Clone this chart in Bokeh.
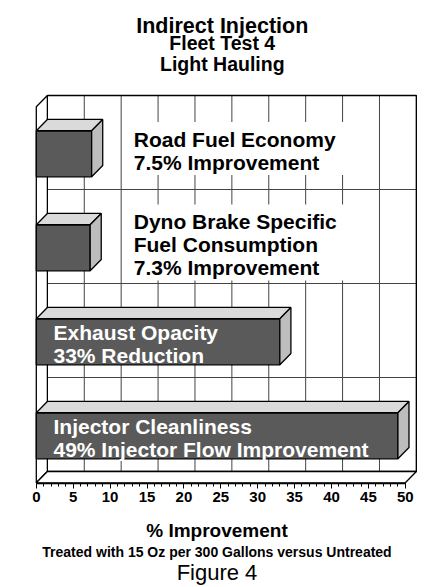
import numpy as np
from bokeh.plotting import figure
from bokeh.models import Range1d, LinearAxis, FixedTicker, Title, ColumnDataSource
from bokeh.core.properties import value
from bokeh.embed import file_html
from bokeh.resources import INLINE

# ---------------- data ----------------
categories = ["Road Fuel Economy", "Dyno Brake Specific Fuel Consumption",
              "Exhaust Opacity", "Injector Cleanliness"]
label_lines = [["Road Fuel Economy", "7.5% Improvement"],
               ["Dyno Brake Specific", "Fuel Consumption", "7.3% Improvement"],
               ["Exhaust Opacity", "33% Reduction"],
               ["Injector Cleanliness", "49% Injector Flow Improvement"]]
improvement = [7.5, 7.3, 33, 49]
x_ticks = [0, 5, 10, 15, 20, 25, 30, 35, 40, 45, 50]
x_minor_ticks = list(range(0, 51))
title_lines = ["Indirect Injection", "Fleet Test 4", "Light Hauling"]
x_label = "% Improvement"
subtitle = "Treated with 15 Oz per 300 Gallons versus Untreated"
caption = "Figure 4"

# ---------------- geometry / style ----------------
FONT = value("Liberation Sans")
W, H = 433, 587
FRAME_H = 483
SX = 7.38            # px per % unit
X0 = 35.8            # px position of 0 in the frame
SY = 94.0            # px per category band
Y0 = 471.0           # px (from frame top) of back-wall bottom
DX, DY = 1.5, 0.12   # 3-D depth offset (data units)
BH = 0.245           # half bar height
XMAX = 50
TFIX = -7.0          # text baseline correction (px)
n = len(categories)
ytop = float(n)

p = figure(width=W, height=H, output_backend="svg", toolbar_location=None,
           x_axis_type=None, y_axis_type=None,
           x_range=Range1d(-X0 / SX, (W - X0) / SX),
           y_range=Range1d(-(FRAME_H - Y0) / SY, Y0 / SY),
           min_border=0, min_border_bottom=H - FRAME_H)
p.grid.visible = False
p.outline_line_color = None
p.background_fill_color = "white"
p.border_fill_color = "white"

# back wall
p.quad(left=[DX], right=[XMAX + DX], bottom=[0], top=[ytop],
       fill_color="white", line_color=None)
# gridlines on the back wall
gx = np.array(x_ticks, dtype=float) + DX
p.segment(x0=gx, y0=0, x1=gx, y1=ytop, line_color="#444444", line_width=1)
gy = np.arange(0, n + 1, dtype=float)
p.segment(x0=DX, y0=gy, x1=XMAX + DX, y1=gy, line_color="#444444", line_width=1)
p.quad(left=[DX], right=[XMAX + DX], bottom=[0], top=[ytop],
       fill_color=None, line_color="black", line_width=1.3)
# left wall and floor
p.patch(x=[0, DX, DX, 0], y=[-DY, 0, ytop, ytop - DY],
        fill_color="white", line_color="black", line_width=1.3)
p.patch(x=[0, XMAX, XMAX + DX, DX], y=[-DY, -DY, 0, 0],
        fill_color="white", line_color="black", line_width=1.3)

# category centres (back plane), top to bottom
yc = np.array([n - 0.5 - i for i in range(n)])
vals = np.array(improvement, dtype=float)
inside = vals >= 20

# white panels behind outside labels
LS = 23.0
for i in range(n):
    if inside[i]:
        continue
    k = len(label_lines[i])
    first = 15 + (0 - (k - 1) / 2) * LS
    last = 15 + ((k - 1) - (k - 1) / 2) * LS
    p.quad(left=[12.2], right=[43.0],
           top=[yc[i] - (first - 24) / SY], bottom=[yc[i] - (last + 6) / SY],
           fill_color="white", line_color=None)

# bars
bot = yc - DY - BH
top = yc - DY + BH
p.quad(left=0, right=vals, bottom=bot, top=top,
       fill_color="#5a5a5a", line_color="black", line_width=1.3)
p.patches(xs=[[0, v, v + DX, DX] for v in vals],
          ys=[[t, t, t + DY, t + DY] for t in top],
          fill_color="#dadada", line_color="black", line_width=1.3)
p.patches(xs=[[v, v + DX, v + DX, v] for v in vals],
          ys=[[b, b + DY, t + DY, t] for b, t in zip(bot, top)],
          fill_color="#bdbdbd", line_color="black", line_width=1.3)

# labels
lx, ly, lt, lo, lc = [], [], [], [], []
for i in range(n):
    k = len(label_lines[i])
    mid = 20.5 if inside[i] else 15.0
    for j, s in enumerate(label_lines[i]):
        lx.append(2.33 if inside[i] else 13.2)
        ly.append(yc[i])
        lt.append(s)
        lo.append(mid + (j - (k - 1) / 2) * LS + TFIX)
        lc.append("white" if inside[i] else "black")
src = ColumnDataSource(dict(x=lx, y=ly, text=lt, yo=lo, c=lc))
p.text(x="x", y="y", text="text", y_offset="yo", text_color="c", source=src,
       text_font=FONT, text_font_style="bold", text_font_size="21px",
       text_baseline="alphabetic", text_align="left")

# titles (inside the top of the frame)
yr_end = Y0 / SY
p.text(x=[25.2] * 3, y=[yr_end] * 3, text=title_lines,
       y_offset=[32.3 + TFIX, 49.5 + TFIX, 70.5 + TFIX],
       text_font_size=["21.5px", "19.5px", "19.5px"],
       text_font=FONT, text_font_style="bold", text_color="black",
       text_align="center", text_baseline="alphabetic")

# x axis
xaxis = LinearAxis(ticker=FixedTicker(ticks=x_ticks, minor_ticks=x_minor_ticks),
                   bounds=(0, XMAX), axis_label=x_label)
xaxis.axis_line_color = "black"
xaxis.axis_line_width = 1.3
xaxis.major_tick_out = 5
xaxis.major_tick_in = 0
xaxis.minor_tick_out = 3
xaxis.minor_tick_in = 0
xaxis.major_tick_line_color = "black"
xaxis.minor_tick_line_color = "black"
xaxis.major_label_standoff = 3
xaxis.major_label_text_font = "Liberation Sans"
xaxis.major_label_text_font_style = "bold"
xaxis.major_label_text_font_size = "15px"
xaxis.major_label_text_color = "black"
xaxis.axis_label_standoff = 15
xaxis.axis_label_text_font = "Liberation Sans"
xaxis.axis_label_text_font_style = "bold"
xaxis.axis_label_text_font_size = "19px"
xaxis.axis_label_text_color = "black"
p.add_layout(xaxis, "below")

p.add_layout(Title(text=subtitle, align="center", text_font="Liberation Sans",
                   text_font_style="bold", text_font_size="14px",
                   text_color="black", standoff=-4), "below")
p.add_layout(Title(text=caption, align="center", text_font="Liberation Sans",
                   text_font_style="normal", text_font_size="22px",
                   text_color="black", standoff=0), "below")

open("out.html", "w").write(file_html(p, INLINE))
